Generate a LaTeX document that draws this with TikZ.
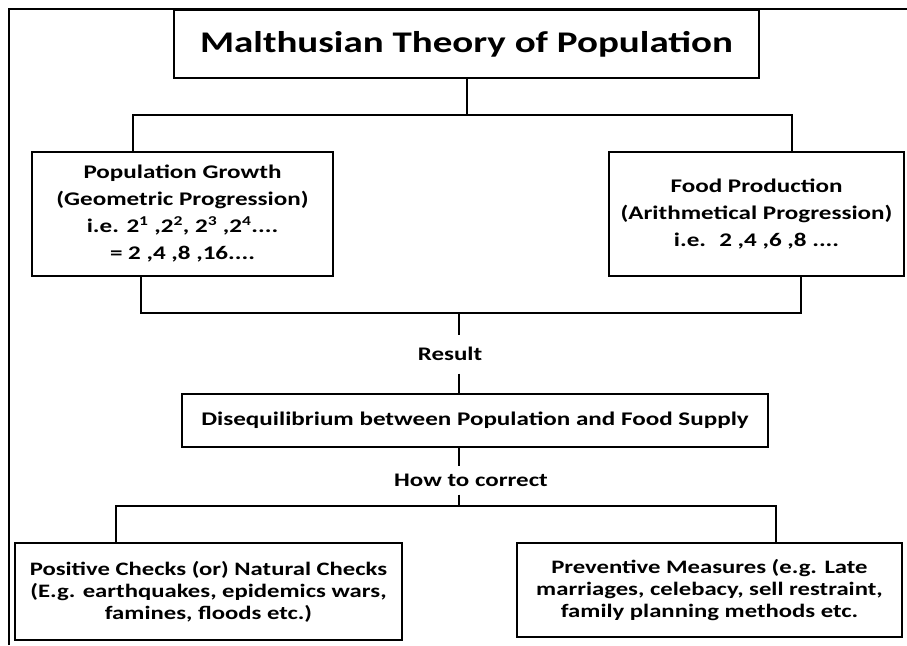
\documentclass[tikz,border=0pt]{standalone}
\usepackage{fontspec}
\setmainfont{Carlito}[FakeStretch=1.3]
\usetikzlibrary{positioning}

\begin{document}
\begin{tikzpicture}[x=1pt, y=-1pt, line width=2pt,
  box/.style={draw, line width=2pt, align=center, inner sep=0pt, font=\fontsize{19.3}{27}\selectfont\bfseries},
  headbox/.style={draw, line width=2pt, align=center, inner sep=0pt, font=\fontsize{30}{36}\selectfont\bfseries},
  checkbox/.style={draw, line width=2pt, align=center, inner sep=0pt, font=\fontsize{19}{22}\selectfont\bfseries},
  tag/.style={align=center, inner sep=0pt, font=\fontsize{19.2}{22}\selectfont\bfseries}]

  \useasboundingbox (0,0) rectangle (907,645);

  % outer frame
  \draw (9,645) -- (9,9) -- (907,9);

  \node[headbox, minimum width=585pt, minimum height=68pt] (title) at (466.5,44) {Malthusian Theory of Population};

  \node[box, minimum width=301pt, minimum height=124pt] (popBox) at (182.5,214)
    {Population Growth\\(Geometric Progression)\\i.e. 2\textsuperscript{1} ,2\textsuperscript{2}, 2\textsuperscript{3} ,2\textsuperscript{4}....\\= 2 ,4 ,8 ,16....};
  \node[box, minimum width=295pt, minimum height=124pt] (foodBox) at (756.5,214)
    {Food Production\\(Arithmetical Progression)\\i.e.~ 2 ,4 ,6 ,8 ....};

  \node[tag, minimum height=37pt] (result) at (450,354) {Result};
  \node[box, minimum width=586pt, minimum height=53pt] (diseq) at (475,420.5)
    {Disequilibrium between Population and Food Supply};
  \node[tag, minimum height=27pt] (howTo) at (471,480) {How to correct};

  \node[checkbox, minimum width=387pt, minimum height=97pt] (posBox) at (208.5,591.5)
    {Positive Checks (or) Natural Checks\\(E.g. earthquakes, epidemics wars,\\famines, floods etc.)};
  \node[checkbox, minimum width=385pt, minimum height=94pt] (prevBox) at (709.5,590)
    {Preventive Measures (e.g. Late\\marriages, celebacy, sell restraint,\\family planning methods etc.};

  \coordinate (busL) at (133,115);
  \coordinate (busR) at (792,115);
  \coordinate (joinL) at (141,313);
  \coordinate (joinM) at (459,313);
  \coordinate (joinR) at (801,313);
  \coordinate (splitL) at (116,506);
  \coordinate (splitM) at (459,506);
  \coordinate (splitR) at (776,506);

  \draw (title.south) -- (title.south |- busL);
  \draw (popBox.north -| busL) -- (busL) -- (busR) -- (foodBox.north -| busR);
  \draw (popBox.south -| joinL) -- (joinL) -- (joinR) -- (foodBox.south -| joinR);
  \draw (joinM) -- (joinM |- result.north);
  \draw (joinM |- result.south) -- (joinM |- diseq.north);
  \draw (joinM |- diseq.south) -- (joinM |- howTo.north);
  \draw (joinM |- howTo.south) -- (splitM);
  \draw (posBox.north -| splitL) -- (splitL) -- (splitR) -- (prevBox.north -| splitR);
\end{tikzpicture}
\end{document}
